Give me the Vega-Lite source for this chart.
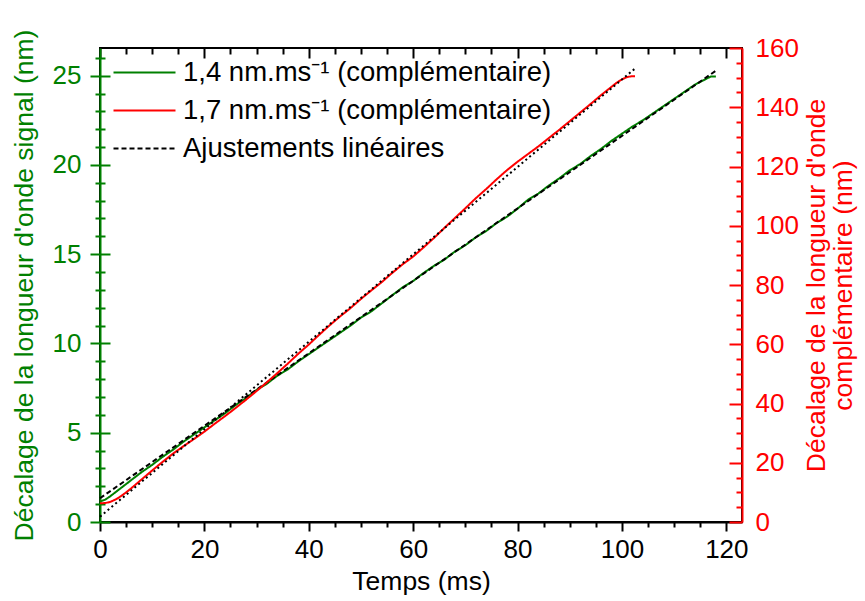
{
  "$schema": "https://vega.github.io/schema/vega-lite/v6.json",
  "width": 642,
  "height": 474,
  "autosize": {"type": "none"},
  "padding": {"left": 100, "top": 48, "right": 123, "bottom": 79},
  "config": {
    "view": {"stroke": "black", "strokeWidth": 2},
    "font": "Liberation Sans",
    "axis": {
      "grid": false,
      "labelFont": "Liberation Sans",
      "titleFont": "Liberation Sans",
      "labelFontSize": 26,
      "titleFontSize": 26.5,
      "titleFontWeight": "normal",
      "tickWidth": 2,
      "domainWidth": 2,
      "tickColor": "black",
      "domainColor": "black",
      "labelColor": "black",
      "titleColor": "black",
      "labelFlush": false,
      "labelOverlap": false
    }
  },
  "datasets": {
    "green": [
      {"t": 0, "y": 1.15, "series": "1,4 nm.ms⁻¹ (complémentaire)"},
      {"t": 1, "y": 1.25, "series": "1,4 nm.ms⁻¹ (complémentaire)"},
      {"t": 2, "y": 1.45, "series": "1,4 nm.ms⁻¹ (complémentaire)"},
      {"t": 4, "y": 1.9, "series": "1,4 nm.ms⁻¹ (complémentaire)"},
      {"t": 6, "y": 2.35, "series": "1,4 nm.ms⁻¹ (complémentaire)"},
      {"t": 8, "y": 2.8, "series": "1,4 nm.ms⁻¹ (complémentaire)"},
      {"t": 10, "y": 3.2, "series": "1,4 nm.ms⁻¹ (complémentaire)"},
      {"t": 12, "y": 3.65, "series": "1,4 nm.ms⁻¹ (complémentaire)"},
      {"t": 14, "y": 4.05, "series": "1,4 nm.ms⁻¹ (complémentaire)"},
      {"t": 16, "y": 4.5, "series": "1,4 nm.ms⁻¹ (complémentaire)"},
      {"t": 18, "y": 4.9, "series": "1,4 nm.ms⁻¹ (complémentaire)"},
      {"t": 20, "y": 5.3, "series": "1,4 nm.ms⁻¹ (complémentaire)"},
      {"t": 22, "y": 5.7, "series": "1,4 nm.ms⁻¹ (complémentaire)"},
      {"t": 24, "y": 6.1, "series": "1,4 nm.ms⁻¹ (complémentaire)"},
      {"t": 26, "y": 6.55, "series": "1,4 nm.ms⁻¹ (complémentaire)"},
      {"t": 28, "y": 6.95, "series": "1,4 nm.ms⁻¹ (complémentaire)"},
      {"t": 30, "y": 7.4, "series": "1,4 nm.ms⁻¹ (complémentaire)"},
      {"t": 32, "y": 7.75, "series": "1,4 nm.ms⁻¹ (complémentaire)"},
      {"t": 34, "y": 8.2, "series": "1,4 nm.ms⁻¹ (complémentaire)"},
      {"t": 36, "y": 8.55, "series": "1,4 nm.ms⁻¹ (complémentaire)"},
      {"t": 38, "y": 9.0, "series": "1,4 nm.ms⁻¹ (complémentaire)"},
      {"t": 40, "y": 9.4, "series": "1,4 nm.ms⁻¹ (complémentaire)"},
      {"t": 42, "y": 9.8, "series": "1,4 nm.ms⁻¹ (complémentaire)"},
      {"t": 44, "y": 10.2, "series": "1,4 nm.ms⁻¹ (complémentaire)"},
      {"t": 46, "y": 10.6, "series": "1,4 nm.ms⁻¹ (complémentaire)"},
      {"t": 48, "y": 11.0, "series": "1,4 nm.ms⁻¹ (complémentaire)"},
      {"t": 50, "y": 11.45, "series": "1,4 nm.ms⁻¹ (complémentaire)"},
      {"t": 52, "y": 11.8, "series": "1,4 nm.ms⁻¹ (complémentaire)"},
      {"t": 54, "y": 12.25, "series": "1,4 nm.ms⁻¹ (complémentaire)"},
      {"t": 56, "y": 12.7, "series": "1,4 nm.ms⁻¹ (complémentaire)"},
      {"t": 58, "y": 13.15, "series": "1,4 nm.ms⁻¹ (complémentaire)"},
      {"t": 60, "y": 13.5, "series": "1,4 nm.ms⁻¹ (complémentaire)"},
      {"t": 62, "y": 13.95, "series": "1,4 nm.ms⁻¹ (complémentaire)"},
      {"t": 64, "y": 14.35, "series": "1,4 nm.ms⁻¹ (complémentaire)"},
      {"t": 66, "y": 14.7, "series": "1,4 nm.ms⁻¹ (complémentaire)"},
      {"t": 68, "y": 15.15, "series": "1,4 nm.ms⁻¹ (complémentaire)"},
      {"t": 70, "y": 15.5, "series": "1,4 nm.ms⁻¹ (complémentaire)"},
      {"t": 72, "y": 15.95, "series": "1,4 nm.ms⁻¹ (complémentaire)"},
      {"t": 74, "y": 16.3, "series": "1,4 nm.ms⁻¹ (complémentaire)"},
      {"t": 76, "y": 16.75, "series": "1,4 nm.ms⁻¹ (complémentaire)"},
      {"t": 78, "y": 17.1, "series": "1,4 nm.ms⁻¹ (complémentaire)"},
      {"t": 80, "y": 17.55, "series": "1,4 nm.ms⁻¹ (complémentaire)"},
      {"t": 82, "y": 18.05, "series": "1,4 nm.ms⁻¹ (complémentaire)"},
      {"t": 84, "y": 18.4, "series": "1,4 nm.ms⁻¹ (complémentaire)"},
      {"t": 86, "y": 18.85, "series": "1,4 nm.ms⁻¹ (complémentaire)"},
      {"t": 88, "y": 19.25, "series": "1,4 nm.ms⁻¹ (complémentaire)"},
      {"t": 90, "y": 19.7, "series": "1,4 nm.ms⁻¹ (complémentaire)"},
      {"t": 92, "y": 20.05, "series": "1,4 nm.ms⁻¹ (complémentaire)"},
      {"t": 94, "y": 20.5, "series": "1,4 nm.ms⁻¹ (complémentaire)"},
      {"t": 96, "y": 20.9, "series": "1,4 nm.ms⁻¹ (complémentaire)"},
      {"t": 98, "y": 21.35, "series": "1,4 nm.ms⁻¹ (complémentaire)"},
      {"t": 100, "y": 21.75, "series": "1,4 nm.ms⁻¹ (complémentaire)"},
      {"t": 102, "y": 22.15, "series": "1,4 nm.ms⁻¹ (complémentaire)"},
      {"t": 104, "y": 22.5, "series": "1,4 nm.ms⁻¹ (complémentaire)"},
      {"t": 106, "y": 22.9, "series": "1,4 nm.ms⁻¹ (complémentaire)"},
      {"t": 108, "y": 23.3, "series": "1,4 nm.ms⁻¹ (complémentaire)"},
      {"t": 110, "y": 23.7, "series": "1,4 nm.ms⁻¹ (complémentaire)"},
      {"t": 112, "y": 24.1, "series": "1,4 nm.ms⁻¹ (complémentaire)"},
      {"t": 114, "y": 24.5, "series": "1,4 nm.ms⁻¹ (complémentaire)"},
      {"t": 116, "y": 24.8, "series": "1,4 nm.ms⁻¹ (complémentaire)"},
      {"t": 117, "y": 24.95, "series": "1,4 nm.ms⁻¹ (complémentaire)"},
      {"t": 118, "y": 24.95, "series": "1,4 nm.ms⁻¹ (complémentaire)"}
    ],
    "greenfit": [
      {"t": 0, "y": 1.33, "series": "Ajustements linéaires"},
      {"t": 118, "y": 25.28, "series": "Ajustements linéaires"}
    ],
    "red": [
      {"t": 0, "y": 6.3, "series": "1,7 nm.ms⁻¹ (complémentaire)"},
      {"t": 1, "y": 6.4, "series": "1,7 nm.ms⁻¹ (complémentaire)"},
      {"t": 2, "y": 6.8, "series": "1,7 nm.ms⁻¹ (complémentaire)"},
      {"t": 3, "y": 7.6, "series": "1,7 nm.ms⁻¹ (complémentaire)"},
      {"t": 4, "y": 8.7, "series": "1,7 nm.ms⁻¹ (complémentaire)"},
      {"t": 5, "y": 10.0, "series": "1,7 nm.ms⁻¹ (complémentaire)"},
      {"t": 6, "y": 11.4, "series": "1,7 nm.ms⁻¹ (complémentaire)"},
      {"t": 7, "y": 12.9, "series": "1,7 nm.ms⁻¹ (complémentaire)"},
      {"t": 8, "y": 14.4, "series": "1,7 nm.ms⁻¹ (complémentaire)"},
      {"t": 10, "y": 17.4, "series": "1,7 nm.ms⁻¹ (complémentaire)"},
      {"t": 12, "y": 20.3, "series": "1,7 nm.ms⁻¹ (complémentaire)"},
      {"t": 14, "y": 23.1, "series": "1,7 nm.ms⁻¹ (complémentaire)"},
      {"t": 16, "y": 25.6, "series": "1,7 nm.ms⁻¹ (complémentaire)"},
      {"t": 18, "y": 28.0, "series": "1,7 nm.ms⁻¹ (complémentaire)"},
      {"t": 20, "y": 30.5, "series": "1,7 nm.ms⁻¹ (complémentaire)"},
      {"t": 22, "y": 33.2, "series": "1,7 nm.ms⁻¹ (complémentaire)"},
      {"t": 24, "y": 35.8, "series": "1,7 nm.ms⁻¹ (complémentaire)"},
      {"t": 26, "y": 38.5, "series": "1,7 nm.ms⁻¹ (complémentaire)"},
      {"t": 28, "y": 41.3, "series": "1,7 nm.ms⁻¹ (complémentaire)"},
      {"t": 30, "y": 44.2, "series": "1,7 nm.ms⁻¹ (complémentaire)"},
      {"t": 32, "y": 47.2, "series": "1,7 nm.ms⁻¹ (complémentaire)"},
      {"t": 34, "y": 50.3, "series": "1,7 nm.ms⁻¹ (complémentaire)"},
      {"t": 36, "y": 53.5, "series": "1,7 nm.ms⁻¹ (complémentaire)"},
      {"t": 38, "y": 56.8, "series": "1,7 nm.ms⁻¹ (complémentaire)"},
      {"t": 40, "y": 59.9, "series": "1,7 nm.ms⁻¹ (complémentaire)"},
      {"t": 42, "y": 63.2, "series": "1,7 nm.ms⁻¹ (complémentaire)"},
      {"t": 44, "y": 66.4, "series": "1,7 nm.ms⁻¹ (complémentaire)"},
      {"t": 46, "y": 69.4, "series": "1,7 nm.ms⁻¹ (complémentaire)"},
      {"t": 48, "y": 72.2, "series": "1,7 nm.ms⁻¹ (complémentaire)"},
      {"t": 50, "y": 75.3, "series": "1,7 nm.ms⁻¹ (complémentaire)"},
      {"t": 52, "y": 78.2, "series": "1,7 nm.ms⁻¹ (complémentaire)"},
      {"t": 54, "y": 81.0, "series": "1,7 nm.ms⁻¹ (complémentaire)"},
      {"t": 56, "y": 84.1, "series": "1,7 nm.ms⁻¹ (complémentaire)"},
      {"t": 58, "y": 87.0, "series": "1,7 nm.ms⁻¹ (complémentaire)"},
      {"t": 60, "y": 89.6, "series": "1,7 nm.ms⁻¹ (complémentaire)"},
      {"t": 62, "y": 92.7, "series": "1,7 nm.ms⁻¹ (complémentaire)"},
      {"t": 64, "y": 95.9, "series": "1,7 nm.ms⁻¹ (complémentaire)"},
      {"t": 66, "y": 99.3, "series": "1,7 nm.ms⁻¹ (complémentaire)"},
      {"t": 68, "y": 102.6, "series": "1,7 nm.ms⁻¹ (complémentaire)"},
      {"t": 70, "y": 105.9, "series": "1,7 nm.ms⁻¹ (complémentaire)"},
      {"t": 72, "y": 109.3, "series": "1,7 nm.ms⁻¹ (complémentaire)"},
      {"t": 74, "y": 112.4, "series": "1,7 nm.ms⁻¹ (complémentaire)"},
      {"t": 76, "y": 115.7, "series": "1,7 nm.ms⁻¹ (complémentaire)"},
      {"t": 78, "y": 118.8, "series": "1,7 nm.ms⁻¹ (complémentaire)"},
      {"t": 80, "y": 121.6, "series": "1,7 nm.ms⁻¹ (complémentaire)"},
      {"t": 82, "y": 124.2, "series": "1,7 nm.ms⁻¹ (complémentaire)"},
      {"t": 84, "y": 126.8, "series": "1,7 nm.ms⁻¹ (complémentaire)"},
      {"t": 86, "y": 129.6, "series": "1,7 nm.ms⁻¹ (complémentaire)"},
      {"t": 88, "y": 132.4, "series": "1,7 nm.ms⁻¹ (complémentaire)"},
      {"t": 90, "y": 135.3, "series": "1,7 nm.ms⁻¹ (complémentaire)"},
      {"t": 92, "y": 138.2, "series": "1,7 nm.ms⁻¹ (complémentaire)"},
      {"t": 94, "y": 141.1, "series": "1,7 nm.ms⁻¹ (complémentaire)"},
      {"t": 96, "y": 144.1, "series": "1,7 nm.ms⁻¹ (complémentaire)"},
      {"t": 98, "y": 146.9, "series": "1,7 nm.ms⁻¹ (complémentaire)"},
      {"t": 99, "y": 148.3, "series": "1,7 nm.ms⁻¹ (complémentaire)"},
      {"t": 100, "y": 149.4, "series": "1,7 nm.ms⁻¹ (complémentaire)"},
      {"t": 101, "y": 150.2, "series": "1,7 nm.ms⁻¹ (complémentaire)"},
      {"t": 102, "y": 150.5, "series": "1,7 nm.ms⁻¹ (complémentaire)"},
      {"t": 102.5, "y": 150.5, "series": "1,7 nm.ms⁻¹ (complémentaire)"}
    ],
    "redfit": [
      {"t": 0, "y": 1.8, "series": "Ajustement (pointillés)"},
      {"t": 102.8, "y": 153.5, "series": "Ajustement (pointillés)"}
    ]
  },
  "layer": [
    {
      "data": {"name": "green"},
      "mark": {"type": "line", "strokeWidth": 2},
      "encoding": {
        "x": {"field": "t", "type": "quantitative", "scale": {"domain": [0, 123], "nice": false, "zero": false},
          "axis": {"orient": "bottom", "values": [0, 20, 40, 60, 80, 100, 120], "tickSize": 9, "labelPadding": 5, "title": "Temps (ms)", "titlePadding": 6}},
        "y": {"field": "y", "type": "quantitative", "scale": {"domain": [0, 26.55], "nice": false, "zero": false},
          "axis": {"orient": "left", "offset": -10, "tickSize": 20, "values": [0, 5, 10, 15, 20, 25], "domain": false, "tickColor": "#008000", "labelColor": "#008000", "titleColor": "#008000", "labelPadding": 9, "title": "Décalage de la longueur d'onde signal (nm)", "titlePadding": 14}},
        "color": {"field": "series", "type": "nominal",
          "scale": {"domain": ["1,4 nm.ms⁻¹ (complémentaire)", "1,7 nm.ms⁻¹ (complémentaire)", "Ajustements linéaires", "Ajustement (pointillés)"], "range": ["#008000", "#ff0000", "#000000", "#000000"]},
          "legend": {"orient": "none", "legendX": 28, "legendY": 8, "title": null, "values": ["1,4 nm.ms⁻¹ (complémentaire)", "1,7 nm.ms⁻¹ (complémentaire)", "Ajustements linéaires"], "symbolType": "M-2,0H2", "symbolSize": 961, "symbolStrokeWidth": 2, "labelFont": "Liberation Sans", "labelFontSize": 27.5, "labelColor": "black", "labelOffset": 22, "padding": 0, "rowPadding": 8, "labelLimit": 600}},
        "strokeDash": {"field": "series", "type": "nominal",
          "scale": {"domain": ["1,4 nm.ms⁻¹ (complémentaire)", "1,7 nm.ms⁻¹ (complémentaire)", "Ajustements linéaires", "Ajustement (pointillés)"], "range": [[1, 0], [1, 0], [5, 3], [2, 3]]},
          "legend": {"orient": "none", "legendX": 28, "legendY": 8, "title": null, "values": ["1,4 nm.ms⁻¹ (complémentaire)", "1,7 nm.ms⁻¹ (complémentaire)", "Ajustements linéaires"], "symbolType": "M-2,0H2", "symbolSize": 961, "symbolStrokeWidth": 2, "labelFont": "Liberation Sans", "labelFontSize": 27.5, "labelColor": "black", "labelOffset": 22, "padding": 0, "rowPadding": 8, "labelLimit": 600}}
      }
    },
    {
      "data": {"name": "greenfit"},
      "mark": {"type": "line", "strokeWidth": 2},
      "encoding": {
        "x": {"field": "t", "type": "quantitative", "scale": {"domain": [0, 123], "nice": false, "zero": false},
          "axis": {"orient": "bottom", "values": [5, 10, 15, 25, 30, 35, 45, 50, 55, 65, 70, 75, 85, 90, 95, 105, 110, 115], "tickSize": 5, "labels": false, "domain": false, "title": null}},
        "y": {"field": "y", "type": "quantitative", "scale": {"domain": [0, 26.55], "nice": false, "zero": false},
          "axis": {"orient": "left", "offset": -5, "tickSize": 10, "values": [1, 2, 3, 4, 6, 7, 8, 9, 11, 12, 13, 14, 16, 17, 18, 19, 21, 22, 23, 24, 26], "domain": false, "labels": false, "tickColor": "#008000", "title": null}},
        "color": {"field": "series", "type": "nominal"},
        "strokeDash": {"field": "series", "type": "nominal"}
      }
    },
    {
      "data": {"name": "red"},
      "mark": {"type": "line", "strokeWidth": 2},
      "encoding": {
        "x": {"field": "t", "type": "quantitative", "scale": {"domain": [0, 123], "nice": false, "zero": false},
          "axis": {"orient": "top", "offset": -10, "tickSize": 10, "values": [0, 20, 40, 60, 80, 100, 120], "labels": false, "domain": false, "title": null}},
        "y": {"field": "y", "type": "quantitative", "scale": {"domain": [0, 160], "nice": false, "zero": false},
          "axis": {"orient": "right", "offset": -13, "tickSize": 13, "values": [0, 20, 40, 60, 80, 100, 120, 140, 160], "domain": false, "tickColor": "#ff0000", "labelColor": "#ff0000", "titleColor": "#ff0000", "labelPadding": 13, "title": ["Décalage de la longueur d'onde", "complémentaire (nm)"], "titleAngle": 270, "titleBaseline": "top", "titleLineHeight": 27, "titlePadding": -22}},
        "color": {"field": "series", "type": "nominal"},
        "strokeDash": {"field": "series", "type": "nominal"}
      }
    },
    {
      "data": {"name": "redfit"},
      "mark": {"type": "line", "strokeWidth": 2},
      "encoding": {
        "x": {"field": "t", "type": "quantitative", "scale": {"domain": [0, 123], "nice": false, "zero": false},
          "axis": {"orient": "top", "offset": -6, "tickSize": 6, "values": [5, 10, 15, 25, 30, 35, 45, 50, 55, 65, 70, 75, 85, 90, 95, 105, 110, 115], "labels": false, "domain": false, "title": null}},
        "y": {"field": "y", "type": "quantitative", "scale": {"domain": [0, 160], "nice": false, "zero": false},
          "axis": {"orient": "right", "offset": -6, "tickSize": 6, "values": [5, 10, 15, 25, 30, 35, 45, 50, 55, 65, 70, 75, 85, 90, 95, 105, 110, 115, 125, 130, 135, 145, 150, 155], "domain": false, "labels": false, "tickColor": "#ff0000", "title": null}},
        "color": {"field": "series", "type": "nominal"},
        "strokeDash": {"field": "series", "type": "nominal"}
      }
    },
    {
      "data": {"name": "green"},
      "mark": {"type": "point", "opacity": 0},
      "encoding": {
        "x": {"field": "t", "type": "quantitative", "scale": {"domain": [0, 123], "nice": false, "zero": false}, "axis": null},
        "y": {"field": "y", "type": "quantitative", "scale": {"domain": [0, 26.55], "nice": false, "zero": false},
          "axis": {"orient": "left", "ticks": false, "labels": false, "title": null, "domain": true, "domainColor": "#008000"}}
      }
    },
    {
      "data": {"name": "red"},
      "mark": {"type": "point", "opacity": 0},
      "encoding": {
        "x": {"field": "t", "type": "quantitative", "scale": {"domain": [0, 123], "nice": false, "zero": false}, "axis": null},
        "y": {"field": "y", "type": "quantitative", "scale": {"domain": [0, 160], "nice": false, "zero": false},
          "axis": {"orient": "right", "ticks": false, "labels": false, "title": null, "domain": true, "domainColor": "#ff0000"}}
      }
    }
  ],
  "resolve": {"scale": {"x": "independent", "y": "independent"}}
}
